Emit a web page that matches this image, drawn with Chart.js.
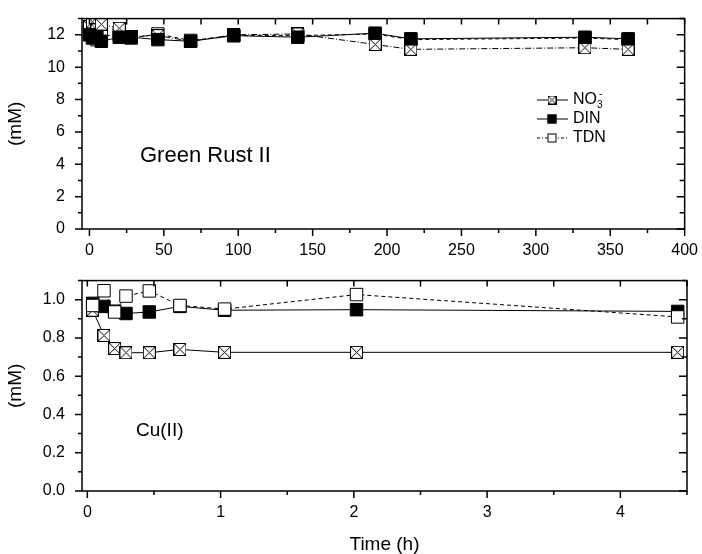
<!DOCTYPE html>
<html>
<head>
<meta charset="utf-8">
<script src="https://cdn.jsdelivr.net/npm/chart.js@4.4.1/dist/chart.umd.min.js"></script>
<style>
  body { margin: 0; background: #fff; }
  #wrap { position: relative; width: 702px; height: 554px; }
  #c1 { position: absolute; left: 0; top: 0; }
  #c2 { position: absolute; left: 0; top: 262px; }
</style>
</head>
<body>
<div id="wrap">
  <div id="c1" style="width:702px;height:262px"><canvas id="greenrust"></canvas></div>
  <div id="c2" style="width:702px;height:292px"><canvas id="cobre"></canvas></div>
</div>
<script>
// panel superior: Green Rust II (tiempo en h)
const grTiempo = [0, 2, 5, 8, 20, 28, 46, 68, 97, 140, 192, 216, 333, 362];
const grNO3 = [12.5, 12.8, 12.3, 12.65, 12.4, 11.9, 11.95, 11.6, 12.0, 12.05, 11.4, 11.1, 11.2, 11.1];
const grDIN = [12.0, 11.8, 11.9, 11.6, 11.85, 11.85, 11.7, 11.6, 11.95, 11.85, 12.1, 11.75, 11.85, 11.75];
const grTDN = [12.2, 12.0, 11.7, 11.9, 12.05, 11.8, 12.05, 11.65, 11.95, 11.95, 12.05, 11.7, 11.8, 11.7];
const grTicksX = [0, 50, 100, 150, 200, 250, 300, 350, 400];
const grTicksY = [0, 2, 4, 6, 8, 10, 12];

// panel inferior: Cu(II)
const cuTiempo = [0.04, 0.125, 0.205, 0.29, 0.465, 0.695, 1.03, 2.02, 4.43];
const cuNO3 = [0.945, 0.813, 0.745, 0.723, 0.723, 0.740, 0.725, 0.725, 0.725];
const cuDIN = [0.981, 0.965, 0.940, 0.928, 0.936, 0.965, 0.945, 0.948, 0.939];
const cuTDN = [0.970, 1.047, 0.936, 1.019, 1.046, 0.970, 0.951, 1.027, 0.910];
const cuTicksX = [0, 1, 2, 3, 4];
const cuTicksY = [0, 0.2, 0.4, 0.6, 0.8, 1.0];

const fuente = "'Liberation Sans', Arial, sans-serif";

// cuadrado con cruz para NO3-
function cuadradoCruz(lado) {
    const c = document.createElement("canvas");
    c.width = lado; c.height = lado;
    const g = c.getContext("2d");
    g.fillStyle = "#fff";
    g.fillRect(0, 0, lado, lado);
    g.strokeStyle = "#000";
    g.lineWidth = 1;
    g.strokeRect(0.5, 0.5, lado - 1, lado - 1);
    g.beginPath();
    g.moveTo(1, 1); g.lineTo(lado - 1, lado - 1);
    g.moveTo(lado - 1, 1); g.lineTo(1, lado - 1);
    g.stroke();
    return c;
}
const marcaCruz = cuadradoCruz(13);
const marcaCruzChica = cuadradoCruz(9);

function pts(xs, ys) {
    return xs.map((x, i) => ({ x: x, y: ys[i] }));
}

// orden: numero menor se dibuja encima
function series(t, no3, din, tdn, dashNO3, orden) {
    return [
        { label: "NO3-", data: pts(t, no3), borderColor: "#000", borderWidth: 1, borderDash: dashNO3,
          pointStyle: marcaCruz, order: orden[0] },
        { label: "DIN", data: pts(t, din), borderColor: "#000", borderWidth: 1,
          pointStyle: "rect", pointRadius: 8.8, pointBackgroundColor: "#000", pointBorderColor: "#000", order: orden[1] },
        { label: "TDN", data: pts(t, tdn), borderColor: "#000", borderWidth: 1, borderDash: [4, 3],
          pointStyle: "rect", pointRadius: 8.8, pointBackgroundColor: "#fff", pointBorderColor: "#000", pointBorderWidth: 1, order: orden[2] },
    ];
}

// marcas de los ejes (afuera a la izquierda/abajo, adentro arriba/derecha)
const marcas = {
    id: "marcas",
    afterDatasetsDraw(chart, args, o) {
        const ctx = chart.ctx;
        const a = chart.chartArea;
        const sx = chart.scales.x, sy = chart.scales.y;
        ctx.save();
        ctx.strokeStyle = "#000";
        ctx.lineWidth = 1.5;
        ctx.strokeRect(a.left, a.top, a.right - a.left, a.bottom - a.top);
        ctx.beginPath();
        for (let v = o.x0; v <= o.x1 + 1e-9; v += o.xMenor) {
            const px = sx.getPixelForValue(v);
            const mayor = Math.abs(v / o.xMayor - Math.round(v / o.xMayor)) < 1e-6;
            ctx.moveTo(px, a.bottom); ctx.lineTo(px, a.bottom + (mayor ? 7 : 4));
            ctx.moveTo(px, a.top); ctx.lineTo(px, a.top + 6);
        }
        for (let v = o.y0; v <= o.y1 + 1e-9; v += o.yMenor) {
            const py = sy.getPixelForValue(v);
            const mayor = Math.abs(v / o.yMayor - Math.round(v / o.yMayor)) < 1e-6;
            ctx.moveTo(a.left, py); ctx.lineTo(a.left - (mayor ? 7 : 4), py);
            ctx.moveTo(a.right, py); ctx.lineTo(a.right - (mayor ? 8 : 5), py);
        }
        ctx.stroke();
        // rotulo del panel
        ctx.fillStyle = "#000";
        ctx.font = o.tam + "px " + fuente;
        ctx.textBaseline = "middle";
        ctx.fillText(o.rotulo, o.rx, o.ry);
        ctx.restore();
    },
};

// leyenda con linea y marca
const leyenda = {
    id: "leyenda",
    afterDraw(chart, args, o) {
        if (!o.mostrar) return;
        const ctx = chart.ctx;
        const filas = [
            { dash: [], marca: "cruz" },
            { dash: [], marca: "lleno" },
            { dash: [3, 2, 1, 2], marca: "vacio" },
        ];
        ctx.save();
        filas.forEach((f, i) => {
            const y = o.y + i * 19;
            ctx.strokeStyle = "#000";
            ctx.lineWidth = 1;
            ctx.setLineDash(f.dash);
            ctx.beginPath();
            ctx.moveTo(o.x, y); ctx.lineTo(o.x + 31, y);
            ctx.stroke();
            ctx.setLineDash([]);
            const cx = o.x + 15;
            if (f.marca === "cruz") {
                ctx.drawImage(marcaCruzChica, cx - 4.5, y - 4.5);
            } else {
                ctx.fillStyle = f.marca === "lleno" ? "#000" : "#fff";
                ctx.fillRect(cx - 4.5, y - 4.5, 9, 9);
                ctx.strokeRect(cx - 4, y - 4, 8, 8);
            }
            ctx.fillStyle = "#000";
            ctx.textBaseline = "middle";
            ctx.font = "16px " + fuente;
            const tx = o.x + 36;
            if (i === 0) {
                ctx.fillText("NO", tx, y);
                const w = ctx.measureText("NO").width;
                ctx.font = "10px " + fuente;
                ctx.fillText("3", tx + w, y + 5);
                ctx.fillText("-", tx + w + 2, y - 6);
            } else {
                ctx.fillText(i === 1 ? "DIN" : "TDN", tx, y);
            }
        });
        ctx.restore();
    },
};

function ejes(xmin, xmax, xticks, ymin, ymax, yticks, decimales, titulo, altoX) {
    return {
        x: {
            type: "linear", min: xmin, max: xmax,
            grid: { display: false }, border: { display: false },
            afterBuildTicks: (s) => { s.ticks = xticks.map((v) => ({ value: v })); },
            afterFit: (s) => { s.height = altoX; },
            ticks: { color: "#000", padding: 4, font: { family: fuente, size: 16 } },
            title: { display: !!titulo, text: titulo, color: "#000", padding: { top: 4, bottom: 0 },
                     font: { family: fuente, size: 19, lineHeight: 1 } },
        },
        y: {
            type: "linear", min: ymin, max: ymax,
            grid: { display: false }, border: { display: false },
            afterBuildTicks: (s) => { s.ticks = yticks.map((v) => ({ value: v })); },
            afterFit: (s) => { s.width = 82; },
            ticks: { color: "#000", padding: 9, font: { family: fuente, size: 16 },
                     callback: (v) => v.toFixed(decimales) },
            title: { display: true, text: "(mM)", color: "#000", padding: { bottom: 8 }, font: { family: fuente, size: 19 } },
        },
    };
}

new Chart(document.getElementById("greenrust"), {
    type: "line",
    data: { datasets: series(grTiempo, grNO3, grDIN, grTDN, [6, 2, 1, 2], [2, 1, 3]) },
    options: {
        responsive: true, maintainAspectRatio: false, animation: false,
        layout: { padding: { left: 0, right: 15, top: 12, bottom: 0 } },
        scales: ejes(-5, 400, grTicksX, 0, 13, grTicksY, 0, "", 33),
        plugins: {
            legend: { display: false }, tooltip: { enabled: false },
            marcas: { x0: 0, x1: 400, xMenor: 25, xMayor: 50, y0: 0, y1: 13, yMenor: 1, yMayor: 2,
                      rotulo: "Green Rust II", rx: 140, ry: 156, tam: 22 },
            leyenda: { mostrar: true, x: 537, y: 100 },
        },
    },
    plugins: [marcas, leyenda],
});

new Chart(document.getElementById("cobre"), {
    type: "line",
    data: { datasets: series(cuTiempo, cuNO3, cuDIN, cuTDN, [], [3, 2, 1]) },
    options: {
        responsive: true, maintainAspectRatio: false, animation: false,
        layout: { padding: { left: 0, right: 15, top: 4, bottom: 0 } },
        scales: ejes(-0.04, 4.5, cuTicksX, 0, 1.1, cuTicksY, 1, "Time (h)", 63),
        plugins: {
            legend: { display: false }, tooltip: { enabled: false },
            marcas: { x0: 0, x1: 4.5, xMenor: 0.5, xMayor: 1, y0: 0, y1: 1.1, yMenor: 0.1, yMayor: 0.2,
                      rotulo: "Cu(II)", rx: 136, ry: 169, tam: 19 },
            leyenda: { mostrar: false },
        },
    },
    plugins: [marcas, leyenda],
});
</script>
</body>
</html>
